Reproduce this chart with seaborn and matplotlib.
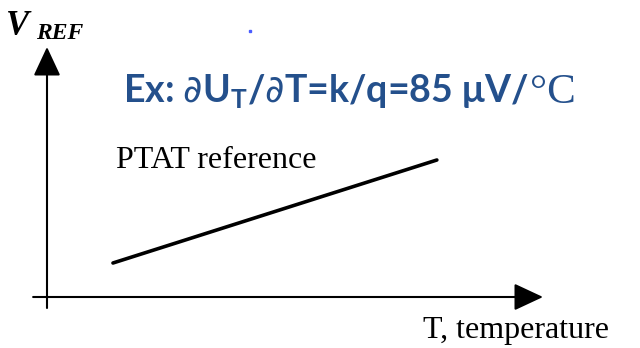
import matplotlib
matplotlib.use("Agg")
import matplotlib.pyplot as plt
import seaborn as sns
import pandas as pd

# PTAT reference: V_REF rises linearly with temperature (normalised units)
temperature = [0.133, 0.786]
vref = [0.136, 0.548]
series_label = "PTAT reference"
title_text = r"Ex: $\partial$U$_\mathregular{T}$/$\partial$T=k/q=85 μV/"
title_unit = "°C"

sns.set_theme(style="white")
plt.rcParams["font.family"] = ["Liberation Serif", "DejaVu Serif"]
plt.rcParams["text.color"] = "black"

W, H = 640, 348
fig = plt.figure(figsize=(W / 100, H / 100), dpi=100)
fig.patch.set_facecolor("white")

# axes origin at (47, 297) px, arrow tips at x=543 and y=47
ax = fig.add_axes([47 / W, (H - 297) / H, (543 - 47) / W, (297 - 47) / H])
ax.set_xlim(0, 1)
ax.set_ylim(0, 1)
ax.axis("off")

df = pd.DataFrame({"T": temperature, "V": vref})
sns.lineplot(data=df, x="T", y="V", ax=ax, color="black", linewidth=2.6,
             solid_capstyle="round")

arrow = dict(arrowstyle="-|>,head_length=0.9,head_width=0.42", color="black",
             lw=1.5, mutation_scale=20, shrinkA=0, shrinkB=0)
ax.annotate("", xy=(1, 0), xytext=(-0.028, 0), xycoords="axes fraction",
            arrowprops=arrow, annotation_clip=False)
ax.annotate("", xy=(0, 1), xytext=(0, -0.044), xycoords="axes fraction",
            arrowprops=arrow, annotation_clip=False)

px = lambda x, y: (x / W, 1 - y / H)

fig.text(*px(6, 35), "V", fontsize=25, style="italic", fontweight="bold",
         ha="left", va="baseline")
fig.text(*px(36, 39), "REF", fontsize=17, style="italic", fontweight="bold",
         ha="left", va="baseline")
fig.text(*px(216, 168), series_label, fontsize=23, ha="center", va="baseline")
fig.text(*px(516, 338), "T, temperature", fontsize=23, ha="center", va="baseline")

# small blue speck in the original slide
fig.patches.append(plt.Rectangle(px(249, 32), 2 / W, 2 / H, color="#4a5cff",
                                 transform=fig.transFigure, figure=fig))

blue = "#24508C"
t = fig.text(*px(123, 103), title_text, fontsize=27, fontweight="bold", color=blue,
             family=["Lato", "DejaVu Sans"], ha="left", va="baseline")
fig.canvas.draw()
bb = t.get_window_extent()
fig.text(bb.x1 / W + 0.002, 1 - 103 / H, title_unit, fontsize=31, color=blue,
         family=["Liberation Serif"], ha="left", va="baseline")

fig.savefig("out.png", dpi=100)
